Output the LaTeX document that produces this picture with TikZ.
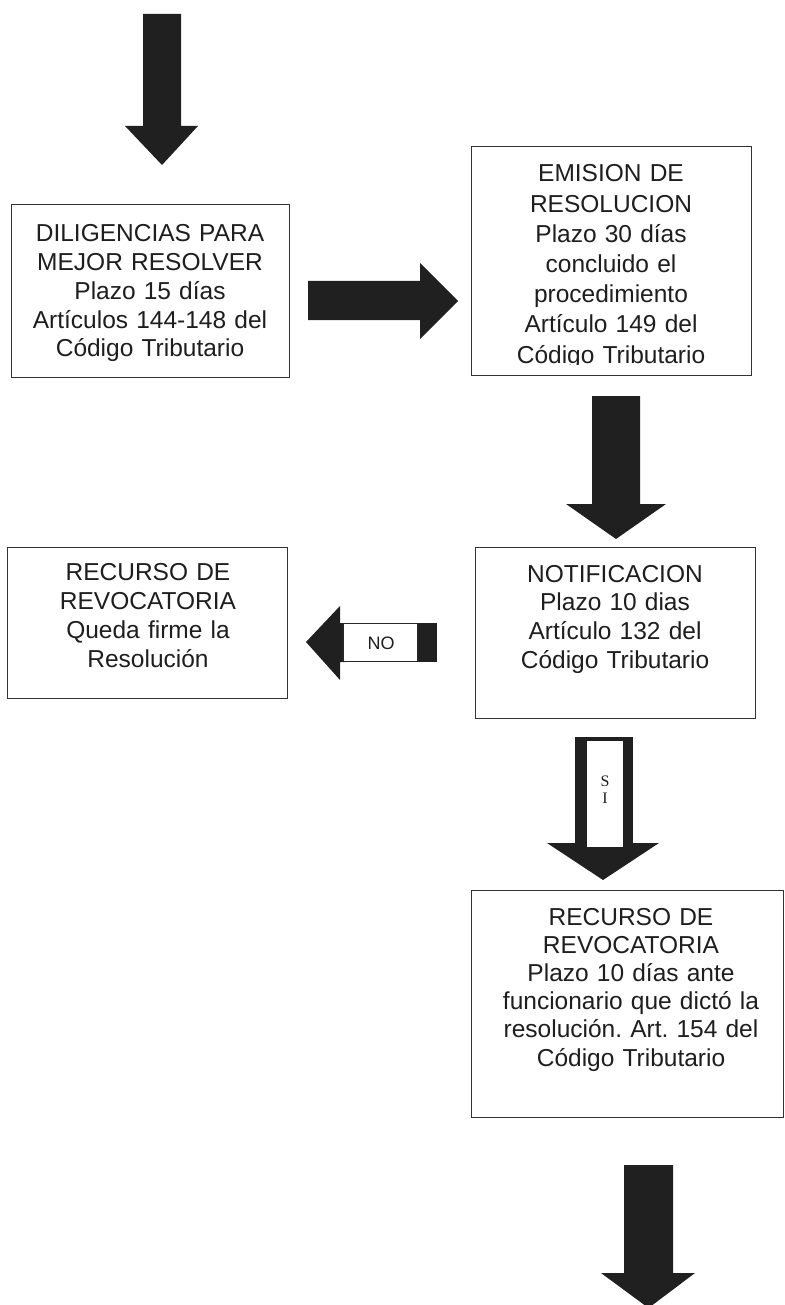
\documentclass[tikz,border=0pt]{standalone}
\usepackage{fontspec}
\setmainfont{Liberation Sans}
\newfontfamily\siserif{Liberation Serif}
\definecolor{ink}{HTML}{1E1E1E}
\definecolor{arrowfill}{HTML}{202020}
\frenchspacing
\begin{document}
\begin{tikzpicture}[x=1pt,y=-1pt,
  box/.style={draw=black!80, line width=1.3pt, inner sep=0pt, anchor=north west},
  txt/.style={text width=330pt, align=center, anchor=base, inner sep=0pt, text=ink},
  blk/.style={fill=arrowfill},
]
\useasboundingbox (0,0) rectangle (784,1305);
\fill[white] (0,0) rectangle (784,1305);

% boxes
\node[box, minimum width=278pt, minimum height=173pt] (b1) at (11,204) {};
\node[box, minimum width=280pt, minimum height=229pt] (b2) at (471,146) {};
\node[box, minimum width=280pt, minimum height=171pt] (b3) at (475,547) {};
\node[box, minimum width=280pt, minimum height=151pt] (b4) at (7,547) {};
\node[box, minimum width=312pt, minimum height=227pt] (b5) at (471,890) {};

% texts
\node[txt, font=\fontsize{24.5}{28.75}\selectfont] (t1) at (150,242)
  {DILIGENCIAS PARA\\MEJOR RESOLVER\\Plazo 15 días\\Artículos 144-148 del\\Código Tributario};
\begin{scope}
\clip (471,146) rectangle (751,364.5);
\node[txt, font=\fontsize{24.5}{30.2}\selectfont] (t2) at (611,182)
  {EMISION DE\\RESOLUCION\\Plazo 30 días\\concluido el\\procedimiento\\Artículo 149 del\\Código Tributario};
\end{scope}
\node[txt, font=\fontsize{24.5}{28.7}\selectfont] (t3) at (615,582)
  {NOTIFICACION\\Plazo 10 dias\\Artículo 132 del\\Código Tributario};
\node[txt, font=\fontsize{24.5}{29}\selectfont] (t4) at (148,580)
  {RECURSO DE\\REVOCATORIA\\Queda firme la\\Resolución};
\node[txt, font=\fontsize{24.5}{28.2}\selectfont] (t5) at (631,925)
  {RECURSO DE\\REVOCATORIA\\Plazo 10 días ante\\funcionario que dictó la\\resolución. Art. 154 del\\Código Tributario};

% block arrows
\fill[blk] (143,14) -- (181,14) -- (181,126) -- (198,126) -- (162,165) -- (125,126) -- (143,126) -- cycle;
\fill[blk] (308,281) -- (420,281) -- (420,263) -- (458,301) -- (420,339) -- (420,320) -- (308,320) -- cycle;
\fill[blk] (592,396) -- (640,396) -- (640,504) -- (666,504) -- (616,539) -- (566,504) -- (592,504) -- cycle;
\fill[blk] (624,1165) -- (673,1165) -- (673,1273) -- (695,1273) -- (648.5,1308) -- (601,1273) -- (624,1273) -- cycle;

% NO arrow
\fill[blk] (306,642) -- (340,606) -- (340,623) -- (345,623) -- (345,662) -- (340,662) -- (340,680) -- cycle;
\fill[blk] (417,623) rectangle (437,662);
\draw[black!85, line width=1.2pt, fill=white] (343,623.6) rectangle (418,661.4);
\node[inner sep=0pt, text=ink, font=\fontsize{18}{18}\selectfont] (no) at (381,643) {NO};

% SI arrow
\fill[blk] (575,737) rectangle (633,843);
\fill[blk] (547,843) -- (659,843) -- (603,880) -- cycle;
\fill[white] (587,741) rectangle (623,847);
\node[txt, font=\siserif\fontsize{16}{17}\selectfont] (si) at (605,786) {S\\I};
\end{tikzpicture}
\end{document}
